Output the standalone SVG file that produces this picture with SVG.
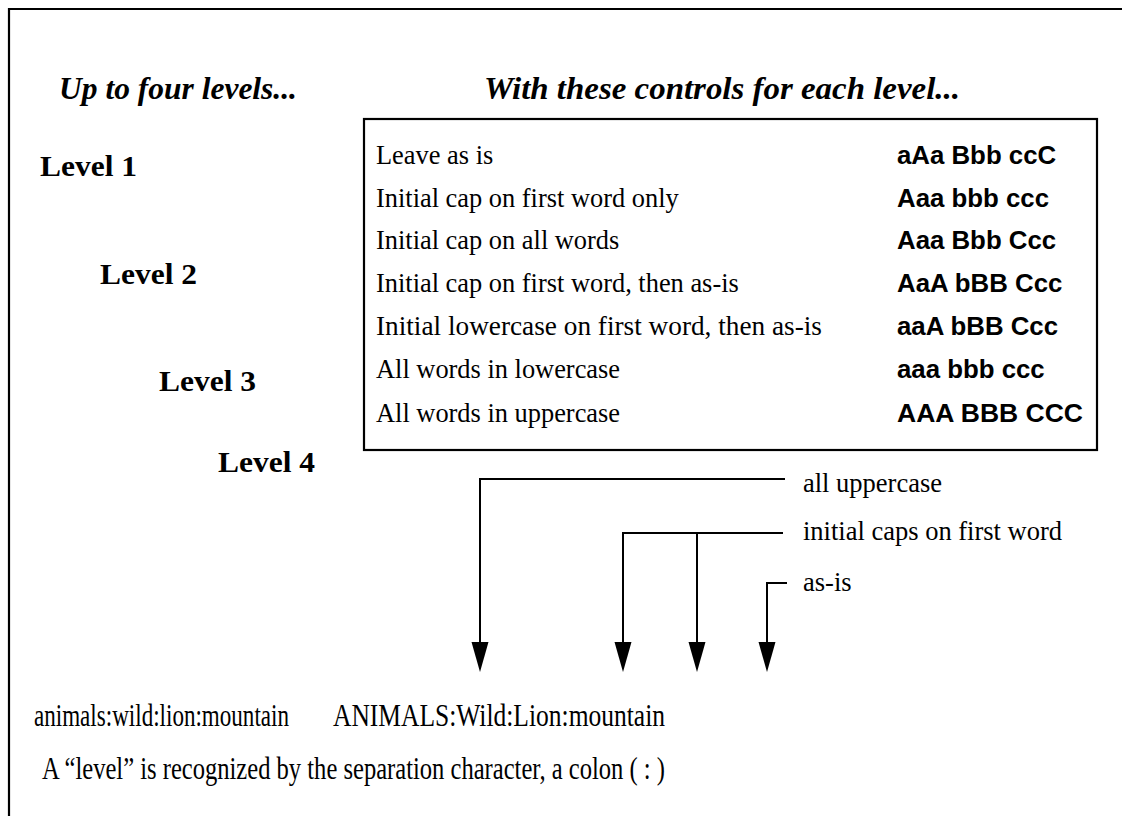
<svg xmlns="http://www.w3.org/2000/svg" width="1122" height="816" viewBox="0 0 1122 816">
  <style>
    .serif { font-family: "Liberation Serif", "Times New Roman", serif; fill: #000; }
    .head { font-size: 32px; font-weight: bold; font-style: italic; }
    .lvl { font-size: 30px; font-weight: bold; }
    .row { font-size: 26.4px; }
    .sample { font-family: "Liberation Sans", Arial, sans-serif; font-size: 25.8px; font-weight: bold; fill: #000; }
    .note { font-size: 26.5px; }
    /* condensed serif: narrow glyphs, stretched tall */
    .big { font-size: 23px; }
    .frame { fill: none; stroke: #000; stroke-width: 2.2; }
    .wire { fill: none; stroke: #000; stroke-width: 2; }
  </style>

  <rect width="1122" height="816" fill="#fff"/>

  <!-- page frame: only top and left edges fall inside the sheet -->
  <path class="frame" d="M9,820 L9,9 L1124,9"/>

  <!-- column headings -->
  <g id="heading-levels">
    <text class="serif head" x="59" y="99" textLength="238" lengthAdjust="spacingAndGlyphs">Up to four levels...</text>
  </g>
  <g id="heading-controls">
    <text class="serif head" x="484" y="99" textLength="476" lengthAdjust="spacingAndGlyphs">With these controls for each level...</text>
  </g>

  <!-- staggered level labels -->
  <g id="level-1"><text class="serif lvl" x="40" y="176" textLength="97" lengthAdjust="spacingAndGlyphs">Level 1</text></g>
  <g id="level-2"><text class="serif lvl" x="100" y="284" textLength="97" lengthAdjust="spacingAndGlyphs">Level 2</text></g>
  <g id="level-3"><text class="serif lvl" x="159" y="391" textLength="97" lengthAdjust="spacingAndGlyphs">Level 3</text></g>
  <g id="level-4"><text class="serif lvl" x="218" y="472" textLength="97" lengthAdjust="spacingAndGlyphs">Level 4</text></g>

  <!-- controls table -->
  <g id="controls-table">
    <rect class="frame" x="364" y="119" width="733" height="331" stroke-width="2.5"/>
    <text class="serif row" x="376" y="164">Leave as is</text>
    <text class="serif row" x="376" y="207">Initial cap on first word only</text>
    <text class="serif row" x="376" y="249">Initial cap on all words</text>
    <text class="serif row" x="376" y="292">Initial cap on first word, then as-is</text>
    <text class="serif row" x="376" y="335" textLength="446" lengthAdjust="spacingAndGlyphs">Initial lowercase on first word, then as-is</text>
    <text class="serif row" x="376" y="378">All words in lowercase</text>
    <text class="serif row" x="376" y="422">All words in uppercase</text>

    <text class="sample" x="897" y="164">aAa Bbb ccC</text>
    <text class="sample" x="897" y="207">Aaa bbb ccc</text>
    <text class="sample" x="897" y="249">Aaa Bbb Ccc</text>
    <text class="sample" x="897" y="292">AaA bBB Ccc</text>
    <text class="sample" x="897" y="335">aaA bBB Ccc</text>
    <text class="sample" x="897" y="378">aaa bbb ccc</text>
    <text class="sample" x="897" y="422" textLength="186" lengthAdjust="spacingAndGlyphs">AAA BBB CCC</text>
  </g>

  <!-- callout labels -->
  <g id="label-upper"><text class="serif note" x="803" y="492">all uppercase</text></g>
  <g id="label-initial"><text class="serif note" x="803" y="540">initial caps on first word</text></g>
  <g id="label-asis"><text class="serif note" x="803" y="591">as-is</text></g>

  <!-- connectors from the labels down to each level of the example -->
  <g id="connectors">
    <path class="wire" d="M785,479 L480,479 L480,642"/>
    <path class="wire" d="M783,533 L623,533 L623,642"/>
    <path class="wire" d="M697,533 L697,642"/>
    <path class="wire" d="M787,583 L767,583 L767,642"/>
    <path d="M471.5,642 L488.5,642 L480,672 Z"/>
    <path d="M614.5,642 L631.5,642 L623,672 Z"/>
    <path d="M688.5,642 L705.5,642 L697,672 Z"/>
    <path d="M758.5,642 L775.5,642 L767,672 Z"/>
  </g>

  <!-- example before and after -->
  <g id="example-source">
    <text class="serif big" transform="translate(34,726) scale(1,1.39)" textLength="255" lengthAdjust="spacingAndGlyphs">animals:wild:lion:mountain</text>
  </g>
  <g id="example-result">
    <text class="serif big" transform="translate(333,726) scale(1,1.39)" textLength="332" lengthAdjust="spacingAndGlyphs">ANIMALS:Wild:Lion:mountain</text>
  </g>
  <g id="footnote">
    <text class="serif big" transform="translate(42,779) scale(1,1.39)" textLength="623" lengthAdjust="spacingAndGlyphs">A “level” is recognized by the separation character, a colon ( : )</text>
  </g>
</svg>
